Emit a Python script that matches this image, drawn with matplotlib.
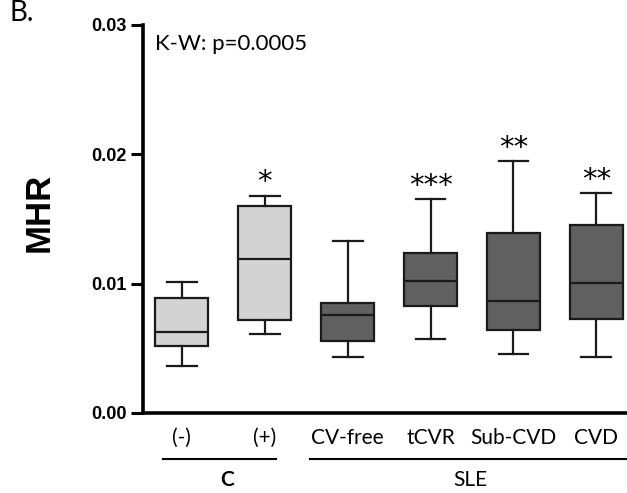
import matplotlib
matplotlib.use("Agg")
import matplotlib.pyplot as plt
import matplotlib.transforms as mtransforms

# box statistics (MHR)
groups = ["(-)", "(+)", "CV-free", "tCVR", "Sub-CVD", "CVD"]
whislo = [0.00366, 0.00613, 0.00431, 0.00570, 0.00459, 0.00431]
q1 = [0.00520, 0.00722, 0.00555, 0.00830, 0.00644, 0.00725]
med = [0.00630, 0.01189, 0.00756, 0.01019, 0.00864, 0.01003]
q3 = [0.00890, 0.01600, 0.00853, 0.01235, 0.01390, 0.01454]
whishi = [0.01010, 0.01680, 0.01333, 0.01653, 0.01947, 0.01699]
stars = ["", "*", "", "***", "**", "**"]
box_colors = ["#d3d3d3", "#d3d3d3", "#606060", "#606060", "#606060", "#606060"]

main_font = ["Lato", "DejaVu Sans"]

fig = plt.figure(figsize=(6.27, 4.93), dpi=100)
ax = fig.add_axes([0.228, 0.1623, 0.772, 0.7870])

stats = []
for i in range(len(groups)):
    stats.append(dict(whislo=whislo[i], q1=q1[i], med=med[i], q3=q3[i],
                      whishi=whishi[i], fliers=[], label=groups[i]))

pos = list(range(len(groups)))
bp = ax.bxp(stats, positions=pos, widths=0.64, patch_artist=True,
            showfliers=False,
            boxprops=dict(linewidth=1.6, edgecolor="#1a1a1a"),
            whiskerprops=dict(linewidth=1.6, color="#1a1a1a"),
            capprops=dict(linewidth=1.6, color="#1a1a1a"),
            medianprops=dict(linewidth=1.6, color="#1a1a1a"),
            capwidths=0.36)
for patch, c in zip(bp["boxes"], box_colors):
    patch.set_facecolor(c)

# significance stars
for i, s in enumerate(stars):
    if s:
        ax.annotate(s, (pos[i], whishi[i]), xytext=(0, 4), textcoords="offset points",
                    ha="center", va="baseline", fontsize=21, family="DejaVu Sans")

ax.set_ylim(0, 0.03)
ax.set_xlim(-0.47, 5.37)
ax.set_yticks([0.0, 0.01, 0.02, 0.03])
ax.set_yticklabels(["0.00", "0.01", "0.02", "0.03"], fontsize=13,
                   fontweight="bold", family="Liberation Sans")
ax.tick_params(axis="y", length=9, width=2.2, pad=3)
ax.tick_params(axis="x", length=0, pad=11)
ax.set_xticks(pos)
ax.set_xticklabels(groups, fontsize=15, family=main_font)
for s in ["top", "right"]:
    ax.spines[s].set_visible(False)
ax.spines["left"].set_linewidth(2.6)
ax.spines["bottom"].set_linewidth(2.6)

fig.text(0.062, 0.57, "MHR", rotation=90, ha="center", va="center",
         fontsize=25, fontweight="bold", family="Liberation Sans")

# group bars under the tick labels
trans = mtransforms.blended_transform_factory(ax.transData, ax.transAxes)
ax.plot([-0.23, 1.135], [-0.1186, -0.1186], color="black", lw=1.5,
        transform=trans, clip_on=False)
ax.plot([1.546, 5.37], [-0.1186, -0.1186], color="black", lw=1.5,
        transform=trans, clip_on=False)
ax.text(0.545, -0.173, "C", transform=trans, ha="center", va="center",
        fontsize=15, fontweight="bold", family=main_font)
ax.text(3.48, -0.173, "SLE", transform=trans, ha="center", va="center",
        fontsize=15, family=main_font)

ax.text(0.025, 0.95, "K-W: p=0.0005", transform=ax.transAxes, ha="left", va="center",
        fontsize=16, family=main_font)

fig.text(0.015, 1.0, "B.", ha="left", va="top", fontsize=20, family=main_font)

fig.savefig("out.png", dpi=100)
